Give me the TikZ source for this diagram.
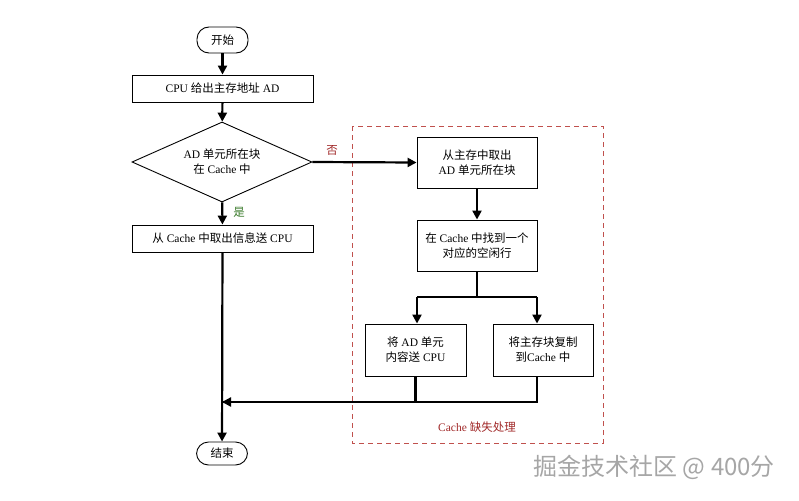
\documentclass[tikz,border=0pt]{standalone}
\usepackage{fontspec}
\setmainfont{Liberation Serif}
\newfontfamily\cjk{Noto Sans CJK SC}
\usetikzlibrary{arrows.meta,shapes.geometric,calc}
\definecolor{missred}{HTML}{C0504D}
\definecolor{labred}{HTML}{A02828}
\definecolor{labgreen}{HTML}{3A7A2A}
\begin{document}
\begin{tikzpicture}[x=1pt,y=-1pt,
  font=\fontsize{11.5}{15}\selectfont,
  procbox/.style={draw=black,line width=0.9pt,align=center,inner sep=0pt},
  termbox/.style={draw=black,line width=0.9pt,rounded corners=12pt,minimum width=51pt,minimum height=26pt,inner sep=0pt},
  decbox/.style={draw=black,line width=0.9pt,diamond,aspect=2.25,minimum width=180pt,minimum height=80pt,inner sep=0pt,align=center},
  flow/.style={line width=2.2pt,-{Triangle[length=9pt,width=9pt]}},
  plainline/.style={line width=2.2pt},
  missframe/.style={draw=missred,line width=0.8pt,dash pattern=on 5pt off 4pt}]
\useasboundingbox (0,0) rectangle (799,500);
\node[termbox] (start) at (222.5,40) {\cjk 开始};
\node[procbox,minimum width=181pt,minimum height=27pt] (addr) at (222.5,88.5) {CPU {\cjk 给出主存地址} AD};
\node[decbox] (hit) at (222,162) {AD {\cjk 单元所在块}\\{\cjk 在} Cache {\cjk 中}};
\node[procbox,minimum width=181pt,minimum height=27pt] (send) at (222.5,238.5) {{\cjk 从} Cache {\cjk 中取出信息送} CPU};
\node[termbox,minimum height=23pt] (end) at (222,453.5) {\cjk 结束};
\node[procbox,minimum width=120pt,minimum height=51pt] (fetch) at (477,162.5) {{\cjk 从主存中取出}\\AD {\cjk 单元所在块}};
\node[procbox,minimum width=120pt,minimum height=51pt] (find) at (477,245.5) {{\cjk 在} Cache {\cjk 中找到一个}\\{\cjk 对应的空闲行}};
\node[procbox,minimum width=101pt,minimum height=52pt] (tocpu) at (415.5,350) {{\cjk 将} AD {\cjk 单元}\\{\cjk 内容送} CPU};
\node[procbox,minimum width=100pt,minimum height=52pt] (copy) at (543,350) {{\cjk 将主存块复制}\\{\cjk 到}Cache {\cjk 中}};
\draw[missframe] (352,126) rectangle (603,443);
\node[text=labred] (misslabel) at (477,427) {Cache {\cjk 缺失处理}};
\node[text=labred] (nolabel) at (332,150) {\cjk 否};
\node[text=labgreen] (yeslabel) at (239,212) {\cjk 是};
\coordinate (split) at (477,297);
\coordinate (splitL) at (417,297);
\coordinate (splitR) at (537,297);
\coordinate (merge) at (222,402);
\draw[flow] (start) -- (addr);
\draw[flow] (addr) -- (hit);
\draw[flow] (hit) -- (send);
\draw[flow] (hit.east) -- (fetch.west);
\draw[flow] (fetch) -- (find);
\draw[plainline] (find.south) -- (split);
\draw[plainline] (splitL) -- (splitR);
\draw[flow] (splitL) -- (splitL |- tocpu.north);
\draw[flow] (splitR) -- (splitR |- copy.north);
\draw[plainline] (tocpu.south) |- (merge);
\draw[flow] (splitR |- copy.south) |- (merge);
\draw[flow] (send) -- (end);
\node[text=black!35,font=\cjk\fontsize{24}{28}\selectfont,anchor=west] (wm) at (530,467) {掘金技术社区 @ 400分};
\end{tikzpicture}
\end{document}
